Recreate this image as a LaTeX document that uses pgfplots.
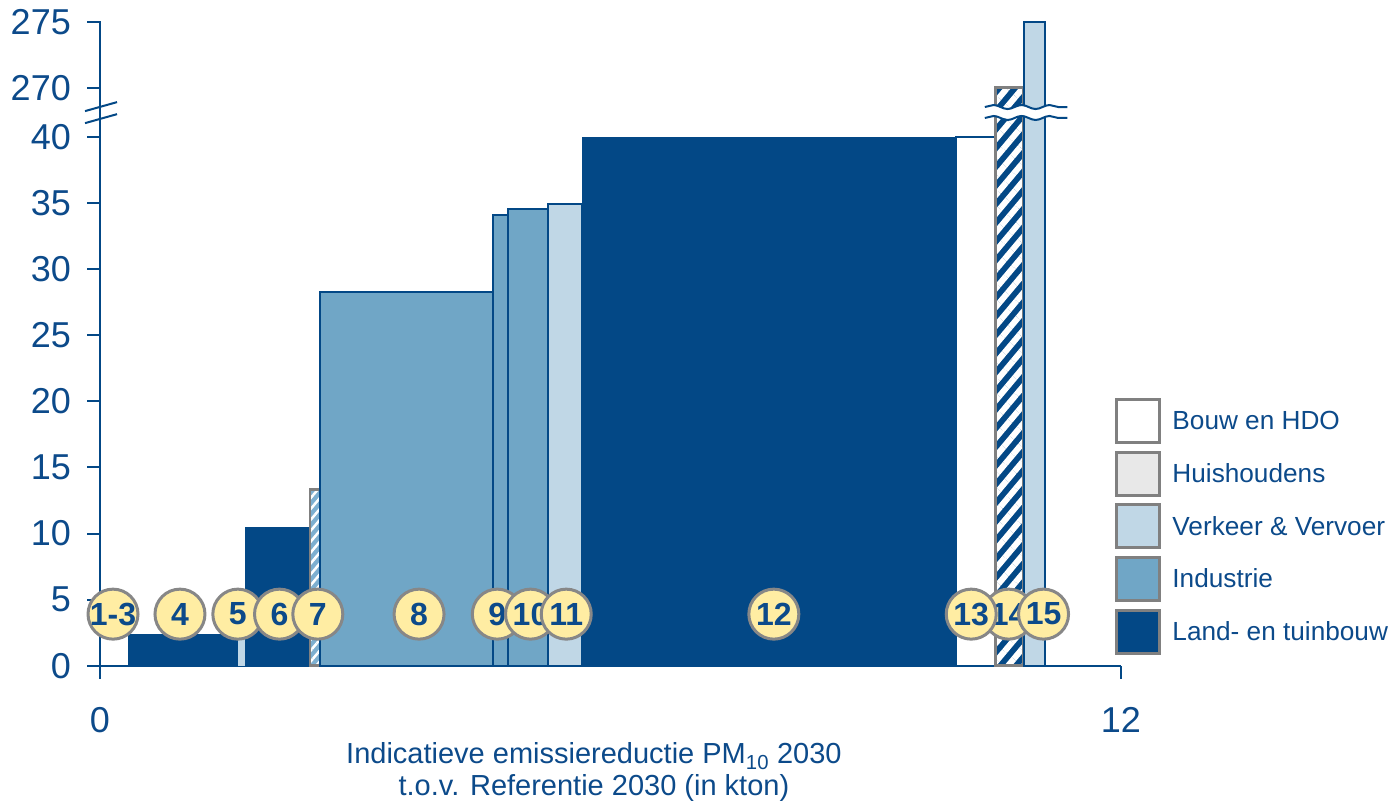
\documentclass[border=0pt]{standalone}
\usepackage{pgfplots}
\pgfplotsset{compat=1.18}
\usepackage{fontspec}
\setmainfont{Liberation Sans}
\usetikzlibrary{patterns.meta,decorations.pathmorphing}
\definecolor{dblue}{RGB}{3,72,134}
\definecolor{txtblue}{RGB}{12,74,138}
\definecolor{indus}{RGB}{112,166,198}
\definecolor{verk}{RGB}{192,215,230}
\definecolor{huis}{RGB}{232,232,232}
\definecolor{hatchb}{RGB}{125,175,208}
\definecolor{circfill}{RGB}{255,237,163}
\definecolor{circdraw}{RGB}{135,135,135}
\definecolor{legdraw}{RGB}{128,128,128}
\newcommand{\mybar}[4]{\addplot[forget plot,#4] coordinates {(#1,0) (#1,#3) (#2,#3) (#2,0)} -- cycle;}
\newcommand{\circlab}[2]{\addplot[forget plot, only marks, mark=*, mark size=25pt,
  mark options={fill=circfill, draw=circdraw, line width=3pt},
  nodes near coords={#2},
  every node near coord/.append style={anchor=center, font=\fontsize{32}{32}\selectfont\bfseries, text=txtblue, inner sep=0pt}]
  coordinates {(#1,3.9)};}
\begin{document}
\begin{tikzpicture}
\begin{axis}[
  at={(0pt,0pt)}, anchor=south west,
  x=85.08pt, y=13.22pt,
  xmin=0, xmax=12, ymin=0, ymax=275.08,
  y coord trafo/.code={\pgfmathparse{#1>=200?#1-226.28:#1}},
  y coord inv trafo/.code={\pgfmathparse{#1>=43?#1+226.28:#1}},
  axis lines=left,
  axis line style={-, dblue, line width=2pt},
  tick style={dblue, line width=2pt},
  tick align=outside,
  major tick length=13pt,
  xtick={0,12}, xticklabels={0,12},
  ytick={0,5,10,15,20,25,30,35,40,270,275},
  yticklabels={0,5,10,15,20,25,30,35,40,270,275},
  ticklabel style={font=\fontsize{36}{40}\selectfont, text=txtblue},
  yticklabel style={inner xsep=0pt, xshift=-16pt},
  xticklabel style={yshift=-25pt},
  clip=false,
  xlabel={Indicatieve emissiereductie PM\textsubscript{10} 2030\\t.o.v. Referentie 2030 (in kton)},
  xlabel style={font=\fontsize{29}{31.5}\selectfont, text=txtblue, align=center,
    at={(axis description cs:0.4838,0)}, anchor=base, yshift=-129.5pt},
  legend image code/.code={\draw[#1] (0pt,-21.5pt) rectangle (43pt,21.5pt);},
  legend style={draw=none, fill=none, inner sep=0pt, outer sep=0pt,
    at={(axis description cs:0.9946,0.415)}, anchor=north west,
    font=\fontsize{26.2}{30}\selectfont, text=txtblue, row sep=6.7pt,
    /tikz/every odd column/.append style={column sep=9pt}},
  legend cell align=left,
]
\addlegendimage{fill=white, draw=legdraw, line width=3pt}
\addlegendentry{Bouw en HDO}
\addlegendimage{fill=huis, draw=legdraw, line width=3pt}
\addlegendentry{Huishoudens}
\addlegendimage{fill=verk, draw=legdraw, line width=3pt}
\addlegendentry{Verkeer \& Vervoer}
\addlegendimage{fill=indus, draw=legdraw, line width=3pt}
\addlegendentry{Industrie}
\addlegendimage{fill=dblue, draw=legdraw, line width=3pt}
\addlegendentry{Land- en tuinbouw}

% bars: x0, x1, height
\mybar{0.326}{1.62}{2.37}{fill=dblue, draw=none}
\mybar{1.62}{1.70}{3.0}{fill=verk, draw=none}
\mybar{1.706}{2.47}{10.51}{fill=dblue, draw=none}
\mybar{2.47}{2.59}{13.34}{fill=hatchb, draw=legdraw, line width=2.5pt, postaction={pattern={Lines[angle=50,distance=7pt,line width=2.5pt]}, pattern color=white}}
\mybar{2.59}{4.62}{28.25}{fill=indus, draw=dblue, line width=2pt}
\mybar{4.62}{4.80}{34.09}{fill=indus, draw=dblue, line width=2pt}
\mybar{4.80}{5.27}{34.54}{fill=indus, draw=dblue, line width=2pt}
\mybar{5.27}{5.66}{34.95}{fill=verk, draw=dblue, line width=2pt}
\mybar{5.66}{10.06}{40}{fill=dblue, draw=none}
\mybar{10.06}{10.52}{40}{fill=white, draw=dblue, line width=2pt}
\mybar{10.52}{10.86}{270}{fill=dblue, draw=legdraw, line width=3pt, postaction={pattern={Lines[angle=50,distance=12pt,line width=6pt]}, pattern color=white}}
\mybar{10.86}{11.11}{275}{fill=verk, draw=dblue, line width=2pt}

% break marks
\draw[white, line width=9pt, decorate, decoration={snake, amplitude=2pt, segment length=28pt}]
  (axis cs:10.40,41.85) -- (axis cs:11.37,41.85);
\draw[dblue, line width=2pt, decorate, decoration={snake, amplitude=2pt, segment length=28pt}]
  (axis cs:10.40,42.26) -- (axis cs:11.37,42.26);
\draw[dblue, line width=2pt, decorate, decoration={snake, amplitude=2pt, segment length=28pt}]
  (axis cs:10.40,41.43) -- (axis cs:11.37,41.43);
\draw[dblue, line width=2pt] (axis cs:-0.176,41.95) -- (axis cs:0.2,42.63);
\draw[dblue, line width=2pt] (axis cs:-0.176,41.04) -- (axis cs:0.2,41.72);

% circles
\circlab{0.153}{1-3}
\circlab{0.94}{4}
\circlab{1.62}{5}
\circlab{2.11}{6}
\circlab{2.56}{7}
\circlab{3.75}{8}
\circlab{4.67}{9}
\circlab{5.06}{10}
\circlab{5.48}{11}
\circlab{7.92}{12}
\circlab{10.68}{14}
\circlab{10.24}{13}
\circlab{11.09}{15}
\end{axis}
\pgfresetboundingbox
\useasboundingbox (-100pt,-137.3pt) rectangle (1291pt,665.7pt);
\end{tikzpicture}
\end{document}
